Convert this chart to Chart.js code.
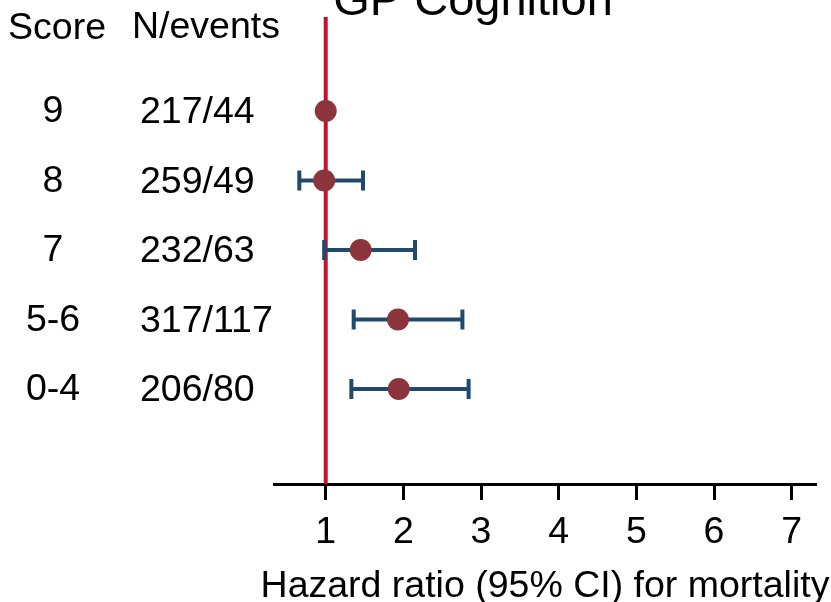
<!DOCTYPE html>
<html>
<head>
<meta charset="utf-8">
<script src="https://cdn.jsdelivr.net/npm/chart.js@4/dist/chart.umd.min.js"></script>
<style>
  html, body { margin: 0; padding: 0; background: #ffffff; }
  #wrap { width: 831px; height: 602px; position: relative; }
</style>
</head>
<body>
<div id="wrap"><canvas id="c" width="831" height="602"></canvas></div>
<script>
// ---- data ----
const chartTitle = 'GP Cognition';
const xAxisTitle = 'Hazard ratio (95% CI) for mortality';
const scores   = ['9', '8', '7', '5-6', '0-4'];
const nEvents  = ['217/44', '259/49', '232/63', '317/117', '206/80'];
const rowPos   = [5, 4, 3, 2, 1];
const hr       = [1.00, 0.98, 1.45, 1.93, 1.94];
const ciLow    = [null, 0.66, 0.98, 1.36, 1.33];
const ciHigh   = [null, 1.48, 2.15, 2.76, 2.84];
const xTicks   = [1, 2, 3, 4, 5, 6, 7];
const refValue = 1;

const FONT = "'Liberation Sans', Arial, Helvetica, sans-serif";
const FS = 37.5;
const Y_MIN = -0.367, Y_MAX = 6.353;

const datasets = [];
// reference line
datasets.push({
  type: 'line',
  data: [{x: refValue, y: Y_MIN}, {x: refValue, y: Y_MAX}],
  borderColor: '#c8102e',
  borderWidth: 4,
  pointRadius: 0,
  order: 3
});
// confidence intervals
rowPos.forEach((y, i) => {
  if (ciLow[i] === null) return;
  datasets.push({
    type: 'line',
    data: [{x: ciLow[i], y: y}, {x: ciHigh[i], y: y}],
    borderColor: '#1f4a6e',
    borderWidth: 4,
    pointStyle: 'line',
    pointRotation: 90,
    pointRadius: 10,
    pointBorderWidth: 4,
    pointBorderColor: '#1f4a6e',
    order: 2
  });
});
// point estimates
datasets.push({
  type: 'scatter',
  data: rowPos.map((y, i) => ({x: hr[i], y: y})),
  backgroundColor: '#8b343c',
  borderColor: '#8b343c',
  pointRadius: 11,
  pointBorderWidth: 0,
  order: 1
});

const textPlugin = {
  id: 'leftText',
  afterDraw(chart) {
    const ctx = chart.ctx;
    const ys = chart.scales.y;
    const xs = chart.scales.x;
    ctx.save();
    ctx.fillStyle = '#000';
    ctx.textBaseline = 'alphabetic';
    ctx.font = '47px ' + FONT;
    ctx.textAlign = 'center';
    ctx.fillText(chartTitle, 473, 15);
    ctx.font = FS + 'px ' + FONT;
    ctx.textAlign = 'center';
    ctx.fillText(xAxisTitle, (xs.left + xs.right) / 2, 597);
    ctx.fillText('Score', 57, 39);
    ctx.textAlign = 'left';
    ctx.fillText('N/events', 132, 38);
    rowPos.forEach((y, i) => {
      const py = ys.getPixelForValue(y);
      ctx.textAlign = 'center';
      ctx.fillText(scores[i], 53, py + 11);
      ctx.textAlign = 'left';
      ctx.fillText(nEvents[i], 140, py + 12);
    });
    ctx.restore();
  }
};

new Chart(document.getElementById('c'), {
  type: 'scatter',
  data: { datasets },
  options: {
    responsive: false,
    animation: false,
    layout: { padding: { left: 274, right: 15, top: 17, bottom: 0 } },
    plugins: {
      legend: { display: false },
      tooltip: { enabled: false },
      title: { display: false }
    },
    scales: {
      x: {
        type: 'linear',
        min: 0.334,
        max: 7.313,
        afterBuildTicks: s => { s.ticks = xTicks.map(v => ({value: v})); },
        afterFit: s => { s.height = 118; },
        grid: { drawOnChartArea: false, drawTicks: true, tickLength: 16, tickWidth: 3, tickColor: '#000' },
        border: { display: true, color: '#000', width: 3 },
        ticks: { color: '#000', font: { family: FONT, size: FS }, padding: 10, maxRotation: 0 },
        title: { display: false }
      },
      y: {
        type: 'linear',
        display: false,
        min: Y_MIN,
        max: Y_MAX
      }
    }
  },
  plugins: [textPlugin]
});
</script>
</body>
</html>
